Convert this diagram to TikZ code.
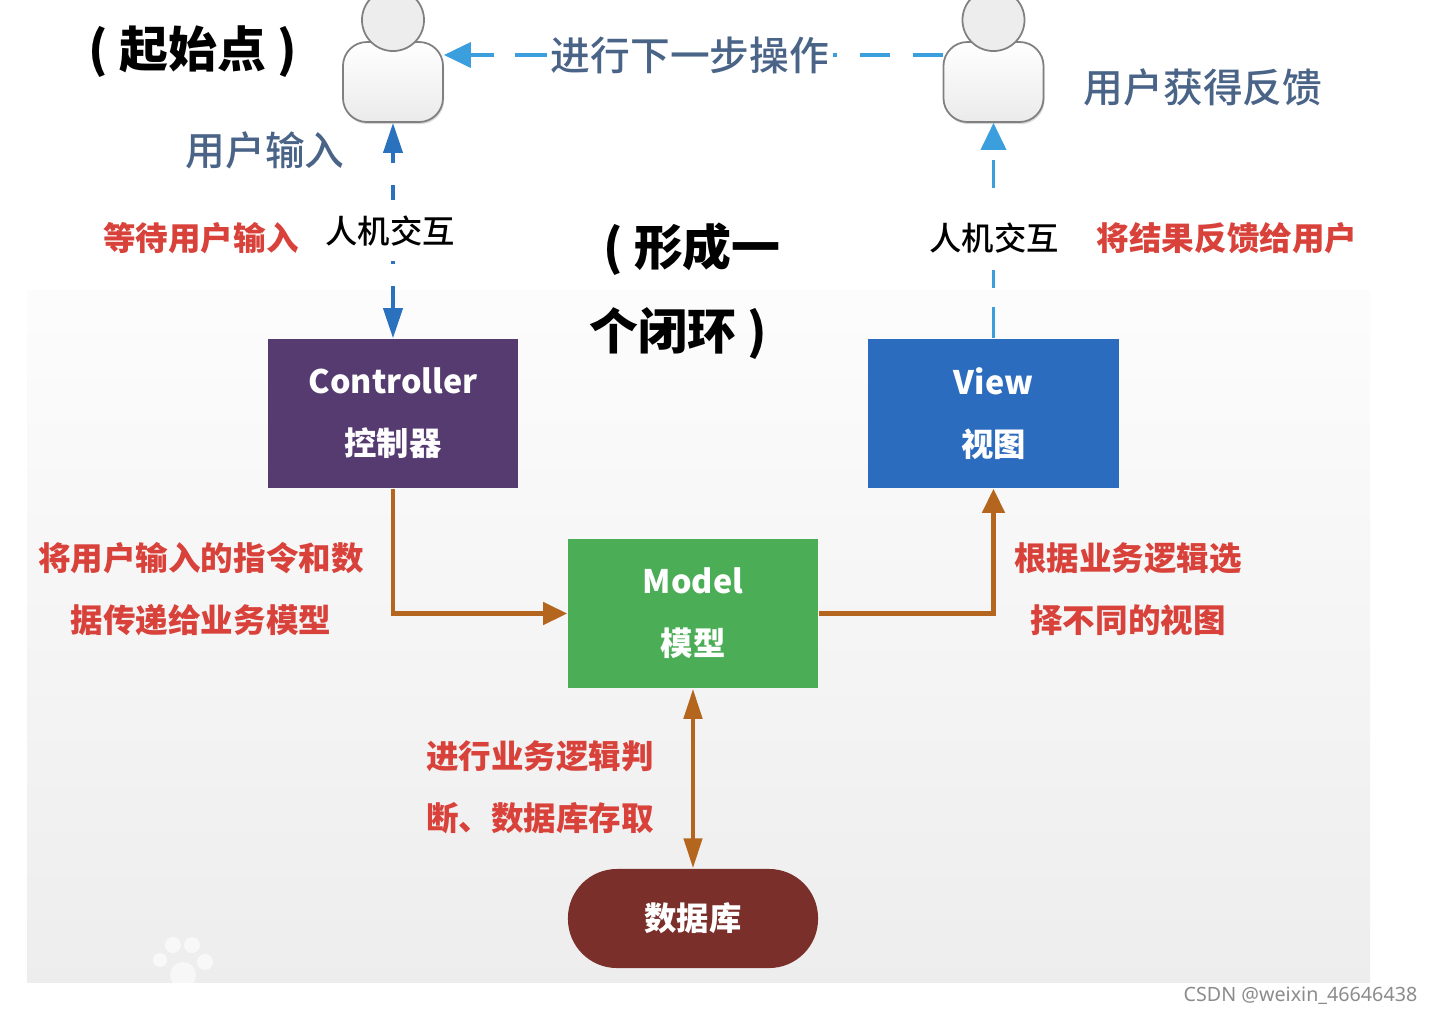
\documentclass[tikz,border=0pt]{standalone}
\usepackage{fontspec}
\setmainfont{Noto Sans CJK SC}
\setsansfont{Noto Sans}
\newfontfamily\cjkmedium{Noto Sans CJK SC Medium}
\usetikzlibrary{shadows,arrows.meta,shapes.geometric}

\definecolor{ctrlpurple}{HTML}{553B70}
\definecolor{viewblue}{HTML}{2C6CBF}
\definecolor{modelgreen}{HTML}{4BAE56}
\definecolor{dbbrown}{HTML}{7A2F2A}
\definecolor{flowbrown}{HTML}{B5661E}
\definecolor{linkblue}{HTML}{2B72BE}
\definecolor{linkcyan}{HTML}{3A9FDC}
\definecolor{notered}{HTML}{D8423B}
\definecolor{stepslate}{HTML}{4A6488}

\tikzset{
  mvcbox/.style={rectangle, minimum width=2.5cm, minimum height=1.49cm, inner sep=0pt,
    text=white, align=center, font=\bfseries\fontsize{9.2}{17.6}\selectfont},
  bignote/.style={font=\bfseries\fontsize{13.9}{16}\selectfont, text=black},
  bluenote/.style={font=\cjkmedium\fontsize{11.3}{14}\selectfont, text=stepslate},
  rednote/.style={font=\bfseries\fontsize{9.25}{17.6}\selectfont, text=notered, align=center},
  hcinote/.style={font=\cjkmedium\fontsize{9.2}{11}\selectfont, text=black, inner sep=8pt},
  userbody/.style={rectangle, rounded corners=0.24cm, minimum width=1cm, minimum height=0.8cm,
    inner sep=0pt, draw=black!50, top color=white, bottom color=black!8, line width=0.5pt,
    drop shadow={shadow xshift=0.3pt, shadow yshift=-0.6pt, opacity=0.3}},
  userhead/.style={ellipse, minimum width=0.62cm, minimum height=0.62cm, inner sep=0pt,
    draw=black!50, fill=black!7, line width=0.5pt},
  flow/.style={draw=flowbrown, line width=1.3pt, -{Stealth[length=0.24cm,width=0.22cm,inset=0pt]}},
  bothflow/.style={draw=flowbrown, line width=1.3pt,
    {Stealth[length=0.3cm,width=0.18cm,inset=0pt]}-{Stealth[length=0.3cm,width=0.18cm,inset=0pt]}},
  bluelink/.style={line width=1.1pt, draw=linkblue, -{Stealth[length=0.3cm,width=0.19cm,inset=0pt]}},
  cyanlink/.style={line width=1.1pt, draw=linkcyan, -{Stealth[length=0.27cm,width=0.25cm,inset=0pt]}}
}

\begin{document}
\begin{tikzpicture}[x=0.01cm,y=-0.01cm]
  \useasboundingbox (0,0) rectangle (1432,1014);
  \fill[white] (0,0) rectangle (1432,1014);

  % the grey panel and the paw print
  \shade[top color=black!1, bottom color=black!7, middle color=black!4] (27,290) rectangle (1370,982);
  \begin{scope}
    \clip (27,900) rectangle (400,982);
    \foreach \px/\py/\pr in {173/945/8, 192/945/8, 160/960/7, 205/962/8, 183/975/13}
      \fill[white, opacity=0.6] (\px,\py) circle (\pr);
  \end{scope}

  % the two users
  \node[userbody] (user1) at (393,82) {};
  \node[userhead] (head1) at (393,20) {};
  \node[userbody] (user2) at (993.5,82) {};
  \node[userhead] (head2) at (993.5,20) {};

  % the boxes
  \node[mvcbox, fill=ctrlpurple] (ctrl) at (393,413.5) {Controller\\控制器};
  \node[mvcbox, fill=viewblue] (view) at (993.5,413.5) {View\\视图};
  \node[mvcbox, fill=modelgreen] (model) at (693,613.5) {Model\\模型};
  \node[mvcbox, fill=dbbrown, minimum height=0.99cm, rounded corners=0.49cm] (db) at (693,918.5) {数据库};

  % the texts
  \node[bignote] (start) at (193,52) {( 起始点 )};
  \node[bignote] (loop1) at (692,249) {( 形成一};
  \node[bignote] (loop2) at (678,334) {个闭环 )};
  \node[bluenote] (input) at (265,150) {用户输入};
  \node[bluenote] (gets) at (1203,87) {用户获得反馈};
  \node[bluenote, inner sep=1pt] (next) at (690,55) {进行下一步操作};
  \node[hcinote] (hci1) at (390,231) {人机交互};
  \node[hcinote] (hci2) at (994,238) {人机交互};
  \node[rednote] (wait) at (201,238) {等待用户输入};
  \node[rednote] (back) at (1227,238) {将结果反馈给用户};
  \node[rednote] (send) at (201,589) {将用户输入的指令和数\\据传递给业务模型};
  \node[rednote] (pick) at (1128,589) {根据业务逻辑选\\择不同的视图};
  \node[rednote] (judge) at (540,787) {进行业务逻辑判\\断、数据库存取};

  % draw the arrows
  \coordinate (hciup) at (393,200);
  \coordinate (hcidown) at (393,261);
  \coordinate (hciviewup) at (993.5,188);
  \coordinate (hciviewdown) at (993.5,270);
  \draw[bluelink, dash pattern=on 0.15cm off 0.22cm] (hciup) -- (user1);
  \draw[bluelink, dash pattern=on 0.03cm off 0.22cm on 0.6cm off 0.2cm] (hcidown) -- (ctrl);
  \draw[cyanlink, dash pattern=on 0.28cm off 0.3cm] (hciviewup) -- (user2);
  \draw[line width=1.1pt, linkcyan, dash pattern=on 0.18cm off 0.19cm on 0.4cm off 1cm] (hciviewdown) -- (view);
  \draw[cyanlink, dash pattern=on 0.32cm off 0.21cm] (next) -- (next -| user1.east);
  \draw[line width=1.1pt, linkcyan, dash pattern=on 0.3cm off 0.23cm] (next -| user2.west) -- (next);
  \draw[flow] (ctrl) |- (model);
  \draw[flow] (model) -| (view);
  \draw[bothflow] (model) -- (db);

  % the mark of the site
  \node[font=\sffamily\fontsize{5.6}{7}\selectfont, text=black!45, anchor=east, inner sep=0pt] (site) at (1418,996) {CSDN @weixin\_46646438};
\end{tikzpicture}
\end{document}
